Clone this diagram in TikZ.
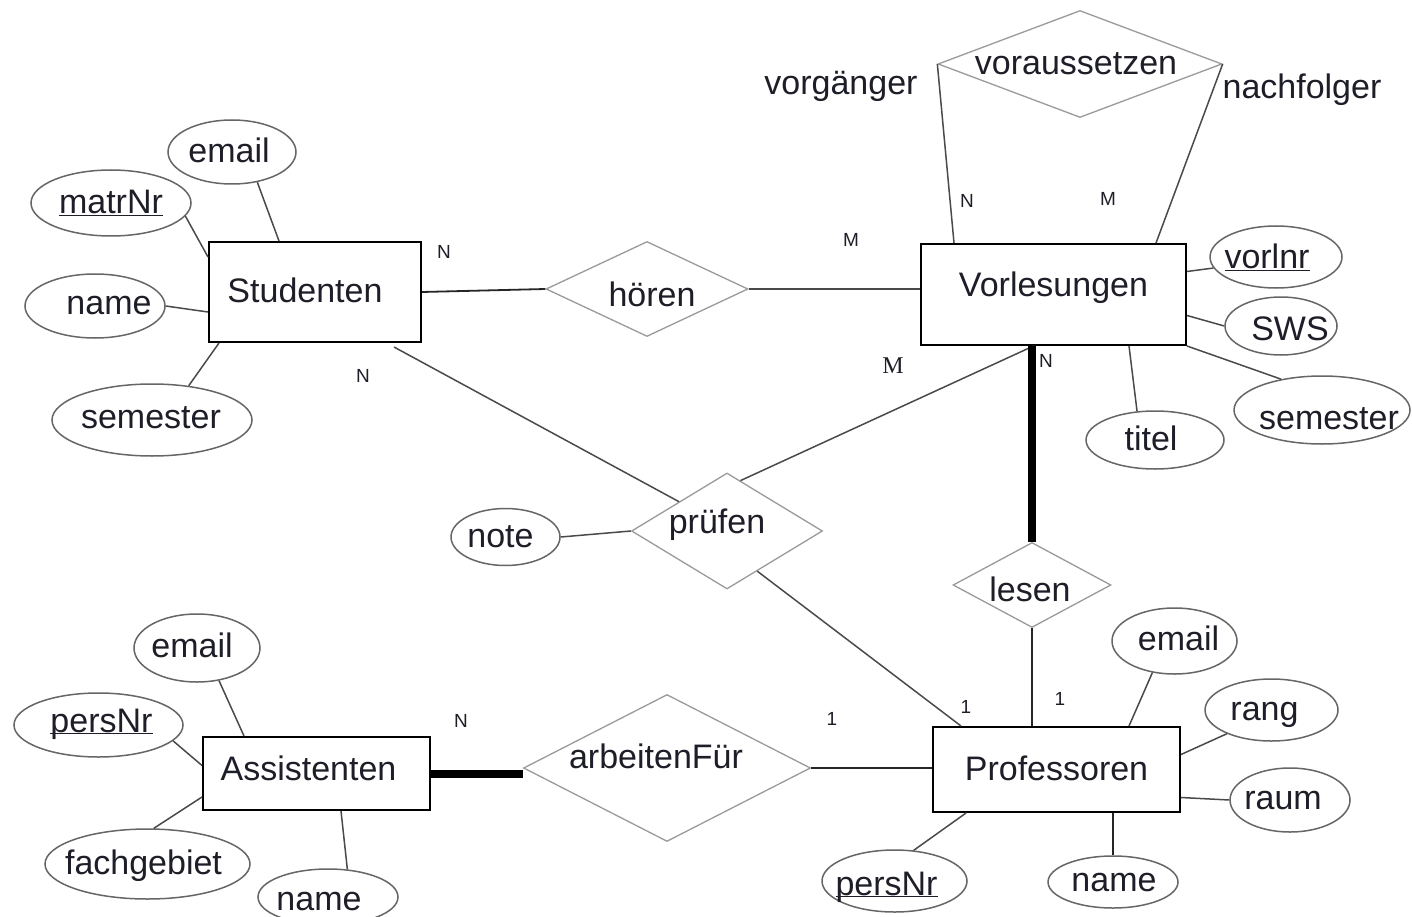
\documentclass[tikz,border=0pt]{standalone}
\usepackage{fontspec}
\setmainfont{Liberation Sans}
\newfontfamily\timesf{Liberation Serif}
\usetikzlibrary{shapes.geometric}
\definecolor{ellc}{HTML}{666666}
\definecolor{diac}{HTML}{9A9A9A}
\definecolor{conc}{HTML}{4A4A4A}
\definecolor{txt}{HTML}{1E1E28}
\newcommand\bigtxt{\fontsize{34}{40}\selectfont}
\newcommand\smalltxt{\fontsize{19}{21}\selectfont}
\newcommand\ulx[1]{\rlap{\underline{\smash{#1}}}\phantom{#1}}
% #1 = twice the horizontal shift, #2 = vertical lift, #3 = text
\newcommand\tx[3]{\makebox[0pt]{\kern#1\raisebox{#2}[\height][\depth]{#3}}}
\begin{document}
\begin{tikzpicture}[x=1pt,y=-1pt,
  every node/.style={text=txt},
  ent/.style={draw=black, line width=2pt, inner sep=0pt, font=\bigtxt},
  rel/.style={diamond, draw=diac, line width=1.3pt, inner sep=0pt, font=\bigtxt},
  attr/.style={ellipse, draw=ellc, line width=1.5pt, inner sep=0pt, font=\bigtxt},
  con/.style={draw=conc, line width=1.5pt},
  dcon/.style={draw=black!85, line width=1.8pt},
  heavy/.style={draw=black, line width=8pt},
  card/.style={font=\smalltxt, inner sep=0pt},
  role/.style={font=\bigtxt, inner sep=0pt}]
\fill[white] (0,0) rectangle (1412,917);
\useasboundingbox (0,0) rectangle (1412,917);

% entities
\node[ent, minimum width=212pt, minimum height=100pt] (stud) at (315,292) {\tx{-20pt}{2pt}{Studenten}};
\node[ent, minimum width=265pt, minimum height=101pt] (vorl) at (1053.5,294.5) {\tx{0pt}{7pt}{Vorlesungen}};
\node[ent, minimum width=227pt, minimum height=73pt] (assi) at (316.5,773.5) {\tx{-16pt}{5pt}{Assistenten}};
\node[ent, minimum width=247pt, minimum height=85pt] (prof) at (1056.5,769.5) {\tx{0pt}{1pt}{Professoren}};

% relationships
\node[rel, minimum width=202pt, minimum height=95pt] (hoeren) at (647,289) {\tx{10pt}{-5pt}{hören}};
\node[rel, minimum width=284pt, minimum height=107pt] (vor) at (1080,64) {\tx{-8pt}{0pt}{voraussetzen}};
\node[rel, minimum width=191pt, minimum height=116pt] (pruef) at (727,531) {\tx{-20pt}{6pt}{prüfen}};
\node[rel, minimum width=158pt, minimum height=85pt] (lesen) at (1032,585) {\tx{-4pt}{-4pt}{lesen}};
\node[rel, minimum width=287pt, minimum height=147pt] (arb) at (667,768) {\tx{-22pt}{12pt}{arbeitenFür}};

% attributes of Studenten
\node[attr, minimum width=128pt, minimum height=64pt] (semail) at (232,152) {\tx{-6pt}{2pt}{email}};
\node[attr, minimum width=160pt, minimum height=66pt] (smatr) at (111,203) {\tx{0pt}{0pt}{\ulx{matrNr}}};
\node[attr, minimum width=140pt, minimum height=64pt] (sname) at (95,306) {\tx{28pt}{0pt}{name}};
\node[attr, minimum width=200pt, minimum height=72pt] (ssem) at (152,420) {\tx{-2pt}{2pt}{semester}};

% attributes of Vorlesungen
\node[attr, minimum width=132pt, minimum height=62pt] (vnr) at (1276,257) {\tx{-18pt}{0pt}{\ulx{vorlnr}}};
\node[attr, minimum width=112pt, minimum height=58pt] (vsws) at (1281,326) {\tx{18pt}{-3pt}{SWS}};
\node[attr, minimum width=176pt, minimum height=68pt] (vsem) at (1322,410) {\tx{14pt}{-9pt}{semester}};
\node[attr, minimum width=138pt, minimum height=58pt] (vtit) at (1155,440) {\tx{-8pt}{2pt}{titel}};

% attribute of prüfen
\node[attr, minimum width=109pt, minimum height=57pt] (note) at (505.5,537) {\tx{-10pt}{0pt}{note}};

% attributes of Assistenten
\node[attr, minimum width=126pt, minimum height=68pt] (aemail) at (197,648) {\tx{-10pt}{3pt}{email}};
\node[attr, minimum width=169pt, minimum height=64pt] (apers) at (98.5,725) {\tx{6pt}{1pt}{\ulx{persNr}}};
\node[attr, minimum width=205pt, minimum height=70pt] (afach) at (147.5,864) {\tx{-8pt}{-2pt}{fachgebiet}};
\node[attr, minimum width=140pt, minimum height=56pt] (aname) at (328,897) {\tx{-18pt}{-5pt}{name}};

% attributes of Professoren
\node[attr, minimum width=125pt, minimum height=66pt] (pemail) at (1174.5,641) {\tx{8pt}{3pt}{email}};
\node[attr, minimum width=133pt, minimum height=62pt] (prang) at (1271.5,710) {\tx{-14pt}{-5pt}{rang}};
\node[attr, minimum width=120pt, minimum height=64pt] (praum) at (1290,800) {\tx{-14pt}{-1pt}{raum}};
\node[attr, minimum width=130pt, minimum height=52pt] (pname) at (1113,882) {\tx{2pt}{-1pt}{name}};
\node[attr, minimum width=145pt, minimum height=62pt] (ppers) at (894.5,881) {\tx{-16pt}{-6pt}{\ulx{persNr}}};

% role labels
\node[role] (rvorg) at (841,86) {vorgänger};
\node[role] (rnach) at (1302,90) {nachfolger};

% cardinalities
\node[card] (c1) at (444,252) {N};
\node[card] (c2) at (851,240) {M};
\node[card] (c3) at (363,376) {N};
\node[inner sep=0pt, font=\timesf\fontsize{24}{26}\selectfont] (c4) at (893,366) {M};
\node[card] (c5) at (1046,361) {N};
\node[card] (c6) at (967,201) {N};
\node[card] (c7) at (1108,199) {M};
\node[card] (c8) at (461,721) {N};
\node[card] (c9) at (832,719) {1};
\node[card] (c10) at (966,707) {1};
\node[card] (c11) at (1060,699) {1};

% attribute connectors: Studenten
\draw[con] (semail.-50) -- ([xshift=71pt]stud.north west);
\draw[con] (smatr.-10) -- ([yshift=-16pt]stud.north west);
\draw[con] (sname.east) -- ([yshift=-20pt]stud.west);
\draw[con] (ssem.43) -- ([xshift=11pt]stud.south west);

% attribute connectors: Vorlesungen
\draw[con] (vnr.190) -- ([yshift=23pt]vorl.east);
\draw[con] (vsws.west) -- ([yshift=-21pt]vorl.east);
\draw[con] (vsem.143) -- (vorl.south east);
\draw[con] (vtit.122) -- ([xshift=-58pt]vorl.south east);

% note
\draw[con] (note.east) -- (pruef.west);

% attribute connectors: Assistenten
\draw[con] (aemail.-56) -- ([xshift=42pt]assi.north west);
\draw[con] (apers.-12) -- ([yshift=8pt]assi.west);
\draw[con] (afach.80) -- ([yshift=14pt]assi.south west);
\draw[con] (aname.55) -- ([xshift=139pt]assi.south west);

% attribute connectors: Professoren
\draw[con] (pemail.235) -- ([xshift=-52pt]prof.north east);
\draw[con] (prang.208) -- ([yshift=15pt]prof.east);
\draw[con] (praum.west) -- ([yshift=-28pt]prof.east);
\draw[dcon] (pname.north) -- (pname.north |- prof.south);
\draw[con] (ppers.58) -- ([xshift=34pt]prof.south west);

% relationship connectors
\draw[dcon] (stud.east) -- (hoeren.west);
\draw[con] (hoeren.east) -- (hoeren.east -| vorl.west);
\draw[con] ([shift={(-28pt,-4pt)}]stud.south east) -- (pruef.north west);
\draw[con] ([xshift=-20pt]vorl.south) -- (pruef.75);
\draw[con] (pruef.-53) -- ([xshift=29pt]prof.north west);
\draw[heavy] (vorl.south -| lesen.north) -- (lesen.north);
\draw[dcon] (lesen.south) -- (lesen.south |- prof.north);
\draw[heavy] (assi.east) -- (assi.east -| arb.west);
\draw[dcon] (arb.east) -- (arb.east -| prof.west);
\draw[con] (vor.west) -- ([xshift=34pt]vorl.north west);
\draw[con] (vor.east) -- ([xshift=-31pt]vorl.north east);
\end{tikzpicture}
\end{document}
